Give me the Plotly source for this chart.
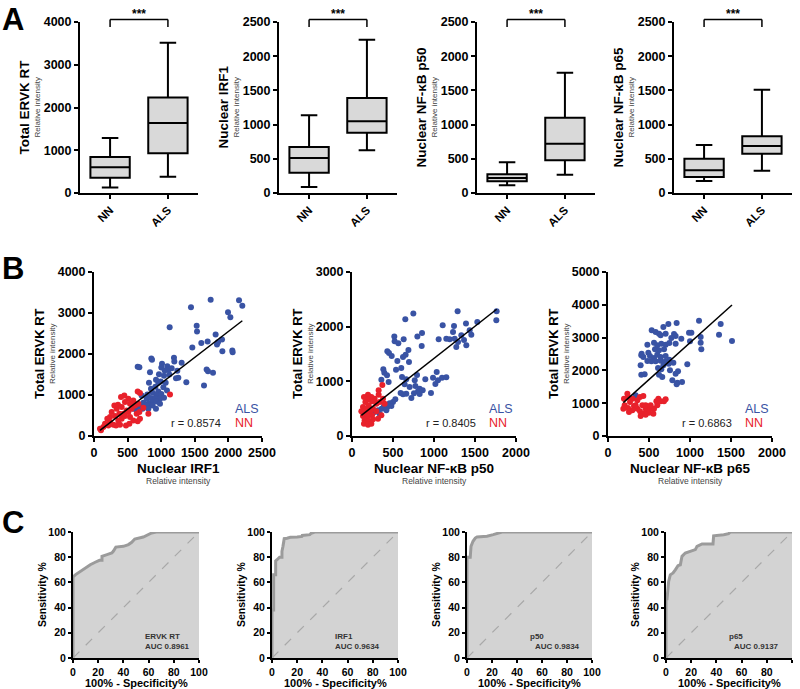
import plotly.graph_objects as go

FONT = "Liberation Sans, Arial, sans-serif"
W, H = 800, 689

# ---------------- Panel A: box plots (NN vs ALS) ----------------
groups = ["NN", "ALS"]
a_titles = ["Total ERVK RT", "Nuclear IRF1", "Nuclear NF-κB p50", "Nuclear NF-κB p65"]
a_ymax = [4000, 2500, 2500, 2500]
a_dtick = [1000, 500, 500, 500]

ervk_low = [130, 380]
ervk_q1 = [355, 930]
ervk_med = [605, 1640]
ervk_q3 = [840, 2235]
ervk_high = [1285, 3515]

irf1_low = [88, 624]
irf1_q1 = [297, 882]
irf1_med = [512, 1048]
irf1_q3 = [672, 1389]
irf1_high = [1135, 2242]

p50_low = [112, 268]
p50_q1 = [171, 478]
p50_med = [219, 721]
p50_q3 = [273, 1101]
p50_high = [448, 1759]

p65_low = [175, 327]
p65_q1 = [234, 575]
p65_med = [331, 687]
p65_q3 = [502, 828]
p65_high = [702, 1511]

# ---------------- Panel B: scatter plots ----------------
b1_als_x = [1443, 1736, 2158, 2207, 1994, 2029, 1126, 1528, 1533, 1810, 1691, 1597, 1845, 1905, 1830, 1463,
            1910, 2058, 2063, 1190, 1304, 1195, 650, 675, 853, 863, 1012, 1002, 1091, 1111, 1052, 1156, 1240,
            1676, 1696, 1771, 833, 967, 1121, 1042, 1220, 1255, 1374, 1637, 923, 992, 818, 957, 1067, 848, 913,
            1032, 1086, 957, 873, 794, 932, 1002, 709, 784, 843, 908, 982, 1042, 863, 932, 809, 734, 675, 784,
            873, 982, 724, 635, 809, 585, 922]
b1_als_y = [3139, 3325, 3309, 3179, 3017, 2895, 2652, 2692, 2547, 2473, 2303, 2271, 2287, 2352, 2230, 2157,
            2068, 2084, 2044, 1906, 1784, 1817, 1687, 1679, 1890, 1857, 1760, 1671, 1703, 1622, 1598, 1654, 1590,
            1622, 1581, 1541, 1557, 1508, 1500, 1468, 1411, 1419, 1314, 1233, 1371, 1330, 1298, 1298, 1298, 1152, 1200,
            1192, 1111, 1087, 1054, 1014, 1006, 1022, 989, 908, 925, 925, 908, 933, 827, 843, 787, 811, 730, 746,
            746, 787, 665, 624, 665, 665, 665]
b1_nn_x = [1131, 650, 684, 451, 402, 511, 303, 337, 357, 412, 461, 536, 585, 610, 660, 486, 560, 635, 684, 650,
           536, 461, 412, 362, 312, 238, 198, 164, 213, 288, 327, 387, 476, 526, 139, 104, 89, 436, 377, 263,
           511, 734, 809, 675, 585, 238]
b1_nn_y = [1014, 1087, 1046, 989, 949, 908, 746, 665, 762, 706, 827, 787, 868, 746, 787, 624, 665, 543, 422, 357,
           462, 487, 422, 381, 487, 462, 422, 300, 259, 276, 259, 276, 259, 300, 219, 138, 178, 543, 543, 584,
           584, 689, 543, 584, 381, 341]

b2_als_x = [1764, 1760, 748, 650, 1288, 1106, 1244, 1390, 1528, 854, 797, 516, 520, 565, 630, 850, 1057, 1150,
            1191, 1232, 1252, 1293, 1272, 1333, 1366, 1435, 1455, 1394, 431, 451, 484, 553, 622, 688, 654, 695,
            382, 394, 537, 601, 427, 358, 447, 610, 662, 793, 765, 894, 1033, 988, 1049, 1017, 1098, 1150, 642,
            703, 773, 825, 805, 862, 756, 825, 724, 963, 662, 622, 593, 500, 528, 459, 431, 390, 362, 480, 317,
            276, 419, 337]
b2_als_y = [2281, 2117, 2239, 2135, 2281, 2025, 2013, 2056, 2086, 1885, 1818, 1818, 1732, 1696, 1769, 1647, 1769, 1781,
            1769, 1903, 1781, 1720, 1629, 1842, 1757, 1934, 1854, 1659, 1549, 1519, 1464, 1373, 1446, 1574, 1488, 1354,
            1220, 1159, 1214, 1244, 1110, 1031, 988, 1080, 1037, 1116, 1019, 1037, 1171, 1067, 1019, 952, 1067, 1074, 946,
            897, 915, 866, 817, 836, 781, 769, 695, 787, 775, 763, 787, 622, 671, 598, 531, 549, 500, 549, 470,
            439, 470, 409]
b2_nn_x = [370, 325, 195, 146, 236, 276, 325, 195, 163, 244, 297, 378, 203, 134, 175, 256, 337, 114, 154, 215,
           297, 134, 187, 244, 154, 203, 256, 146, 195, 236, 358, 175, 228, 398, 317]
b2_nn_y = [933, 836, 756, 714, 714, 683, 756, 671, 622, 634, 592, 683, 561, 531, 500, 500, 622, 451, 409, 439,
           451, 366, 348, 378, 287, 268, 305, 226, 207, 226, 378, 409, 470, 592, 317]

b3_als_x = [1110, 1374, 736, 837, 675, 533, 581, 622, 703, 642, 805, 825, 772, 988, 1017, 1130, 1354, 1512, 1000,
            1130, 1138, 480, 561, 601, 650, 703, 748, 825, 894, 573, 622, 683, 406, 410, 431, 492, 512, 561, 601,
            642, 703, 480, 529, 581, 642, 703, 748, 797, 967, 398, 675, 740, 610, 650, 756, 854, 825, 406, 447,
            622, 662, 785, 846, 903, 837, 337]
b3_als_y = [3515, 3414, 3414, 3444, 3322, 3221, 3170, 3119, 3119, 3068, 3109, 3048, 2987, 3150, 3150, 3017, 3089, 2896,
            2885, 2845, 2642, 2784, 2845, 2764, 2814, 2784, 2835, 2814, 2967, 2642, 2611, 2642, 2459, 2510, 2408, 2540,
            2438, 2377, 2479, 2408, 2438, 2286, 2276, 2276, 2296, 2276, 2327, 2235, 2184, 2154, 2154, 2205, 2073, 2032,
            2002, 1971, 1900, 1869, 1880, 1869, 1798, 1697, 1626, 1646, 1575, 1240]
b3_nn_x = [236, 244, 195, 297, 268, 203, 187, 244, 317, 358, 390, 431, 358, 419, 459, 390, 431, 480, 520, 500,
           561, 553, 601, 614, 642, 683, 703, 590, 459, 398, 459, 337, 297, 256, 520]
b3_nn_y = [1290, 1189, 1138, 1138, 1036, 935, 833, 853, 914, 833, 1189, 1219, 1087, 935, 833, 752, 681, 782, 833, 711,
           833, 681, 935, 1138, 1057, 1057, 1118, 1057, 935, 610, 650, 935, 782, 731, 935]

b_xtitles = ["Nuclear IRF1", "Nuclear NF-κB p50", "Nuclear NF-κB p65"]
b_xmax = [2500, 2000, 2000]
b_ymax = [4000, 3000, 5000]
fit_slope = [1.262, 1.176, 2.248]
fit_intercept = [26, 244, 596]
r_values = ["0.8574", "0.8405", "0.6863"]

# ---------------- Panel C: ROC curves ----------------
roc1_fpr = [0, 0, 1.8, 5.8, 9.7, 13.7, 17.6, 21, 23, 23, 27, 30.8, 32, 34, 40, 44, 46.6, 49, 55.8, 59.7, 62.4, 66, 100]
roc1_sens = [0, 64.3, 66, 68.8, 71.4, 74, 76, 77.5, 77.5, 80.7, 82, 83.3, 84.7, 88, 88.6, 90, 91.8, 94.4, 96, 98, 99.2, 100, 100]
roc2_fpr = [0, 0, 1.3, 1.3, 2.9, 2.9, 4, 6, 7.9, 7.9, 8.7, 9.7, 12, 14.5, 20, 23.7, 24, 30, 31, 33, 34, 100]
roc2_sens = [0, 38, 38, 66, 66, 77, 78, 80, 80, 84.7, 88.6, 94.7, 95, 95.8, 96, 96.5, 97.3, 97.9, 99, 99.5, 100, 100]
roc3_fpr = [0, 0, 2.6, 2.6, 3.2, 4.8, 6.6, 8, 16, 21, 26.5, 28, 100]
roc3_sens = [0, 80, 80, 81, 88.6, 92.6, 95.2, 96, 96.6, 97.9, 99.2, 100, 100]
roc4_fpr = [0, 0, 0.8, 2.1, 3.4, 5.6, 7.4, 9.5, 11.4, 12.7, 15.3, 19.3, 23.3, 24.6, 28.6, 37.3, 37.8, 45.8, 49.7, 51, 100]
roc4_sens = [0, 47, 47, 60.8, 66, 67.5, 70, 73.3, 74, 80.7, 83.3, 84.4, 86, 88.6, 90.5, 90.5, 97, 97.9, 98.7, 100, 100]
roc_names = ["ERVK RT", "IRF1", "p50", "p65"]
auc_values = ["0.8961", "0.9634", "0.9834", "0.9137"]

COL_ALS = "#3953a4"
COL_NN = "#e8212b"

# ---------------- layout geometry (pixels) ----------------
A_X = [(80, 198), (279, 397), (477, 595), (674, 792)]
A_Y = (22, 193)
B_X = [(94, 262), (352, 516), (608, 772)]
B_Y = (272, 436)
C_X = [(73, 199), (272, 398), (467, 592), (666, 792)]
C_Y = (532, 658)


def xd(a, b):
    return [a / W, b / W]


def yd(top, bottom):
    return [1 - bottom / H, 1 - top / H]


def px(xp):
    return xp / W


def py(yp):
    return 1 - yp / H


def ids(i):
    s = "" if i == 1 else str(i)
    return "x" + s, "y" + s, "xaxis" + s, "yaxis" + s


def bfont(size, color="black"):
    return dict(family=FONT, size=size, color=color, weight="bold")


axstyle = dict(showline=True, linewidth=2, linecolor="black", ticks="outside", ticklen=4, tickwidth=2,
               tickcolor="black", showgrid=False, zeroline=False, fixedrange=True, automargin=False)

fig = go.Figure()
layout = {}
ann = []
shapes = []

# ----- A -----
box_stats = [
    (ervk_low, ervk_q1, ervk_med, ervk_q3, ervk_high),
    (irf1_low, irf1_q1, irf1_med, irf1_q3, irf1_high),
    (p50_low, p50_q1, p50_med, p50_q3, p50_high),
    (p65_low, p65_q1, p65_med, p65_q3, p65_high),
]
for k in range(4):
    i = k + 1
    xa, ya, xk, yk = ids(i)
    low, q1, med, q3, high = box_stats[k]
    fig.add_trace(go.Box(x=groups, lowerfence=low, q1=q1, median=med, q3=q3, upperfence=high,
                         fillcolor="#d9d9d9", line=dict(color="black", width=2), whiskerwidth=0.42,
                         width=0.68, boxpoints=False, showlegend=False, xaxis=xa, yaxis=ya, hoverinfo="skip"))
    ym = a_ymax[k]
    layout[xk] = dict(axstyle, domain=xd(*A_X[k]), anchor=ya, type="category", categoryarray=groups,
                      range=[-0.52, 1.52], tickangle=-45, tickfont=bfont(11.5))
    layout[yk] = dict(axstyle, domain=yd(*A_Y), anchor=xa, range=[0, ym], dtick=a_dtick[k],
                      tickfont=bfont(12.5))
    # significance bracket between the two group categories
    yb, yt = py(27), py(19.5)
    bl = dict(type="line", xref=xa, yref="paper", line=dict(color="black", width=1.5))
    shapes.append(dict(bl, x0=0, x1=0, y0=yb, y1=yt))
    shapes.append(dict(bl, x0=0, x1=1, y0=yt, y1=yt))
    shapes.append(dict(bl, x0=1, x1=1, y0=yb, y1=yt))
    cy = py((A_Y[0] + A_Y[1]) / 2)
    ann.append(dict(text=a_titles[k], x=px(A_X[k][0] - 56), y=cy, xref="paper", yref="paper",
                    textangle=-90, showarrow=False, font=bfont(13.5), xanchor="center", yanchor="middle"))
    ann.append(dict(text="Relative intensity", x=px(A_X[k][0] - 43), y=cy, xref="paper", yref="paper",
                    textangle=-90, showarrow=False, font=dict(family=FONT, size=8, color="#444"),
                    xanchor="center", yanchor="middle"))
    ann.append(dict(text="***", x=0.5, y=py(14), xref=xa + " domain", yref="paper",
                    showarrow=False, font=bfont(12), xanchor="center", yanchor="middle"))

# ----- B -----
b_data = [(b1_als_x, b1_als_y, b1_nn_x, b1_nn_y),
          (b2_als_x, b2_als_y, b2_nn_x, b2_nn_y),
          (b3_als_x, b3_als_y, b3_nn_x, b3_nn_y)]
for k in range(3):
    i = k + 5
    xa, ya, xk, yk = ids(i)
    ax_, ay_, nx_, ny_ = b_data[k]
    fig.add_trace(go.Scatter(x=ax_, y=ay_, mode="markers", marker=dict(color=COL_ALS, size=6),
                             showlegend=False, xaxis=xa, yaxis=ya, hoverinfo="skip"))
    fig.add_trace(go.Scatter(x=nx_, y=ny_, mode="markers", marker=dict(color=COL_NN, size=6),
                             showlegend=False, xaxis=xa, yaxis=ya, hoverinfo="skip"))
    allx = ax_ + nx_
    x0, x1 = min(allx), max(allx)
    fig.add_trace(go.Scatter(x=[x0, x1], y=[fit_slope[k] * x0 + fit_intercept[k], fit_slope[k] * x1 + fit_intercept[k]],
                             mode="lines", line=dict(color="black", width=1.5), showlegend=False,
                             xaxis=xa, yaxis=ya, hoverinfo="skip"))
    layout[xk] = dict(axstyle, domain=xd(*B_X[k]), anchor=ya, range=[0, b_xmax[k]], dtick=500,
                      tickfont=bfont(12.5))
    layout[yk] = dict(axstyle, domain=yd(*B_Y), anchor=xa, range=[0, b_ymax[k]], dtick=1000,
                      tickfont=bfont(12.5))
    cy = py((B_Y[0] + B_Y[1]) / 2)
    ann.append(dict(text="Total ERVK RT", x=px(B_X[k][0] - 55), y=cy, xref="paper", yref="paper",
                    textangle=-90, showarrow=False, font=bfont(13), xanchor="center", yanchor="middle"))
    ann.append(dict(text="Relative intensity", x=px(B_X[k][0] - 42), y=cy, xref="paper", yref="paper",
                    textangle=-90, showarrow=False, font=dict(family=FONT, size=8, color="#444"),
                    xanchor="center", yanchor="middle"))
    cx = px((B_X[k][0] + B_X[k][1]) / 2)
    ann.append(dict(text=b_xtitles[k], x=cx, y=py(468), xref="paper", yref="paper", showarrow=False,
                    font=bfont(13.5), xanchor="center", yanchor="middle"))
    ann.append(dict(text="Relative intensity", x=cx, y=py(481), xref="paper", yref="paper", showarrow=False,
                    font=dict(family=FONT, size=8.5, color="#444"), xanchor="center", yanchor="middle"))
    ann.append(dict(text="ALS", x=0.825, y=0.165, xref=xa + " domain", yref=ya + " domain", showarrow=False,
                    font=dict(family=FONT, size=12.5, color=COL_ALS), xanchor="left", yanchor="middle"))
    ann.append(dict(text="NN", x=0.825, y=0.08, xref=xa + " domain", yref=ya + " domain", showarrow=False,
                    font=dict(family=FONT, size=12.5, color=COL_NN), xanchor="left", yanchor="middle"))
    ann.append(dict(text="r = " + r_values[k], x=0.77, y=0.08, xref=xa + " domain", yref=ya + " domain",
                    showarrow=False, font=dict(family=FONT, size=11, color="#222"), xanchor="right",
                    yanchor="middle"))

# ----- C -----
roc_data = [(roc1_fpr, roc1_sens), (roc2_fpr, roc2_sens), (roc3_fpr, roc3_sens), (roc4_fpr, roc4_sens)]
name_x = [55.8, 48.7, 49, 48.4]
auc_x = [55.8, 48.7, 52.5, 52.4]
for k in range(4):
    i = k + 8
    xa, ya, xk, yk = ids(i)
    fx, sy = roc_data[k]
    fig.add_trace(go.Scatter(x=fx, y=sy, mode="lines", fill="tozeroy", fillcolor="#d3d3d3",
                             line=dict(color="#9b9b9b", width=3), cliponaxis=False, showlegend=False,
                             xaxis=xa, yaxis=ya, hoverinfo="skip"))
    fig.add_trace(go.Scatter(x=[0, 100], y=[0, 100], mode="lines",
                             line=dict(color="#a8a8a8", width=1.2, dash="dash"), showlegend=False,
                             xaxis=xa, yaxis=ya, hoverinfo="skip"))
    layout[xk] = dict(axstyle, domain=xd(*C_X[k]), anchor=ya, range=[0, 100], dtick=20, ticklen=3,
                      tickfont=bfont(10.5))
    layout[yk] = dict(axstyle, domain=yd(*C_Y), anchor=xa, range=[0, 100], dtick=20, ticklen=3,
                      tickfont=bfont(10.5))
    cy = py((C_Y[0] + C_Y[1]) / 2)
    ann.append(dict(text="Sensitivity %", x=px(C_X[k][0] - 31), y=cy, xref="paper", yref="paper",
                    textangle=-90, showarrow=False, font=bfont(10.5), xanchor="center", yanchor="middle"))
    ann.append(dict(text="100% - Specificity%", x=px((C_X[k][0] + C_X[k][1]) / 2), y=py(683), xref="paper",
                    yref="paper", showarrow=False, font=bfont(11), xanchor="center", yanchor="middle"))
    ann.append(dict(text=roc_names[k], x=name_x[k], y=16.7, xref=xa, yref=ya, showarrow=False,
                    font=bfont(8, "#333"), xanchor="left", yanchor="middle"))
    ann.append(dict(text="AUC " + auc_values[k], x=auc_x[k], y=9.3, xref=xa, yref=ya, showarrow=False,
                    font=bfont(8, "#333"), xanchor="left", yanchor="middle"))

# panel letters
for letter, yy in [("A", 19), ("B", 268), ("C", 522)]:
    ann.append(dict(text=letter, x=0.0, y=py(yy), xref="paper", yref="paper", showarrow=False,
                    font=bfont(31), xanchor="left", yanchor="middle"))

fig.update_layout(**layout)
fig.update_layout(template="none", width=W, height=H, autosize=False, margin=dict(l=0, r=0, t=0, b=0, pad=0),
                  paper_bgcolor="white", plot_bgcolor="white", annotations=ann, shapes=shapes,
                  font=dict(family=FONT, color="black"), showlegend=False)
fig.write_html("out.html", config={"displayModeBar": False, "staticPlot": True},
               post_script="document.body.style.margin='0px';document.body.style.overflow='hidden';")
